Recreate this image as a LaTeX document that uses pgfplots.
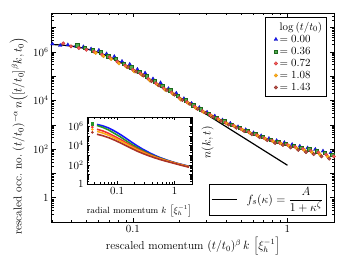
\documentclass[border=0pt]{standalone}
\usepackage{pgfplots}
\pgfplotsset{compat=1.18}
\usetikzlibrary{calc}
\definecolor{cblue}{RGB}{20,20,255}
\definecolor{cgreen}{RGB}{40,150,40}
\definecolor{cred}{RGB}{240,50,50}
\definecolor{corange}{RGB}{255,170,20}
\definecolor{cbrown}{RGB}{170,50,40}
\begin{document}
\begin{tikzpicture}
\begin{axis}[name=main, scale only axis, width=282bp, height=209bp,
 xmode=log, ymode=log, xmin=0.03, xmax=2, ymin=0.1, ymax=4e7,
 xtick={0.1,1}, xticklabels={$0.1$,$1$},
 minor xtick={0.03,0.04,0.05,0.06,0.07,0.08,0.09,0.2,0.3,0.4,0.5,0.6,0.7,0.8,0.9,2},
 ytick={0.1,1,10,100,1000,1e4,1e5,1e6,1e7},
 yticklabels={,$1$,,$10^2$,,$10^4$,,$10^6$,},
 minor ytick={0.2,0.3,0.4,0.5,0.6,0.7,0.8,0.9,2,3,4,5,6,7,8,9,20,30,40,50,60,70,80,90,200,300,400,500,600,700,800,900,2e3,3e3,4e3,5e3,6e3,7e3,8e3,9e3,2e4,3e4,4e4,5e4,6e4,7e4,8e4,9e4,2e5,3e5,4e5,5e5,6e5,7e5,8e5,9e5,2e6,3e6,4e6,5e6,6e6,7e6,8e6,9e6,2e7,3e7},
 axis line style={line width=1pt},
 major tick length=4bp, minor tick length=2.2bp,
 every tick/.style={black, line width=0.5pt},
 tick label style={font=\fontsize{10.5}{12}\selectfont},
 xlabel={rescaled momentum $(t/t_0)^{\beta}\,k\,\left[\xi_h^{-1}\right]$},
 ylabel={rescaled occ.\ no.\ $(t/t_0)^{-\alpha}\,n\!\left([t/t_0]^{\beta}k,t_0\right)$},
 ylabel style={at={(axis description cs:-0.118,0.41)}, anchor=center, font=\fontsize{11.5}{14}\selectfont},
 xlabel style={yshift=2bp, font=\fontsize{11.5}{14}\selectfont},
 legend style={at={(rel axis cs:0.975,0.98)}, anchor=north east, draw=black, line width=0.6pt, fill=white, inner sep=2.5pt, row sep=-0.5pt, cells={anchor=west}, font=\fontsize{11}{13}\selectfont},
 mark options={solid},
]
\addlegendimage{empty legend}\addlegendentry{$\log\,(t/t_0)$}
\addplot[only marks, mark=triangle*, mark size=2.1pt, color=cblue, mark options={fill=cblue, draw=cblue!70!black, line width=0.3pt}] coordinates {
(0.0302,2.14e6) (0.0339,1.86e6) (0.0380,1.95e6) (0.0427,1.74e6) (0.0479,1.62e6) (0.0537,1.32e6) (0.0603,1.17e6) (0.0676,8.32e5) (0.0759,6.46e5) (0.0851,4.07e5) (0.0955,3.09e5) (0.107,1.91e5) (0.120,1.35e5) (0.135,7.76e4) (0.151,5.37e4) (0.170,3.09e4) (0.191,2.00e4) (0.214,1.20e4) (0.240,7.59e3) (0.269,5.13e3) (0.302,3.31e3) (0.339,2.29e3) (0.380,1.58e3) (0.427,1.15e3) (0.479,832) (0.537,631) (0.603,468) (0.676,355) (0.759,275) (0.851,224) (0.955,186) (1.072,155) (1.202,132) (1.349,112) (1.514,97.7) (1.698,83.2) (1.905,70.8)};
\addlegendentry{$=0.00$}
\addplot[only marks, mark=square*, mark size=1.7pt, color=cgreen, mark options={fill=cgreen!80!white, draw=cgreen!70!black, line width=0.4pt}] coordinates {
(0.0437,1.86e6) (0.0490,1.51e6) (0.0550,1.17e6) (0.0617,9.77e5) (0.0692,6.76e5) (0.0776,5.13e5) (0.0871,3.27e5) (0.0977,2.37e5) (0.110,1.50e5) (0.123,1.00e5) (0.138,6.31e4) (0.155,3.98e4) (0.174,2.63e4) (0.195,1.55e4) (0.219,1.02e4) (0.245,6.46e3) (0.275,4.37e3) (0.309,2.95e3) (0.347,2.00e3) (0.389,1.41e3) (0.437,1.02e3) (0.490,741) (0.550,562) (0.617,427) (0.692,324) (0.776,245) (0.871,204) (0.977,166) (1.096,138) (1.230,115) (1.380,97.7) (1.549,83.2) (1.738,69.2) (1.950,58.9)};
\addlegendentry{$=0.36$}
\addplot[only marks, mark=*, mark size=1.8pt, color=cred, mark options={fill=cred!80!white, draw=cred!80!black, line width=0.3pt}] coordinates {
(0.0355,2.24e6) (0.0398,1.70e6) (0.0447,1.45e6) (0.0501,1.23e6) (0.0562,1.02e6) (0.0631,7.76e5) (0.0708,6.03e5) (0.0794,3.98e5) (0.0891,2.75e5) (0.100,1.86e5) (0.112,1.29e5) (0.126,7.76e4) (0.141,5.13e4) (0.158,3.24e4) (0.178,2.14e4) (0.200,1.26e4) (0.224,8.51e3) (0.251,5.62e3) (0.282,3.63e3) (0.316,2.57e3) (0.355,1.78e3) (0.398,1.23e3) (0.447,933) (0.501,676) (0.562,501) (0.631,380) (0.708,282) (0.794,224) (0.891,182) (1.000,151) (1.122,123) (1.259,102) (1.413,85.1) (1.585,72.4) (1.778,60.3) (1.995,50.1)};
\addlegendentry{$=0.72$}
\addplot[only marks, mark=*, mark size=1.8pt, color=corange, mark options={fill=corange, draw=corange!85!black, line width=0.3pt}] coordinates {
(0.0575,9.12e5) (0.0646,6.76e5) (0.0724,5.13e5) (0.0813,3.39e5) (0.0912,2.40e5) (0.102,1.58e5) (0.115,1.10e5) (0.129,6.61e4) (0.145,4.37e4) (0.162,2.75e4) (0.182,1.82e4) (0.204,1.10e4) (0.229,7.59e3) (0.257,4.79e3) (0.288,3.31e3) (0.324,2.29e3) (0.363,1.58e3) (0.407,1.12e3) (0.457,851) (0.513,617) (0.575,457) (0.646,347) (0.724,257) (0.813,204) (0.912,166) (1.023,135) (1.148,107) (1.288,89.1) (1.445,72.4) (1.622,60.3) (1.820,49.0)};
\addlegendentry{$=1.08$}
\addplot[only marks, mark=*, mark size=1.8pt, color=cbrown, mark options={fill=cbrown!85!white, draw=cbrown!80!black, line width=0.3pt}] coordinates {
(0.0933,2.34e5) (0.105,1.55e5) (0.117,1.07e5) (0.132,6.31e4) (0.148,4.17e4) (0.166,2.63e4) (0.186,1.74e4) (0.209,1.05e4) (0.234,7.24e3) (0.263,4.57e3) (0.295,3.09e3) (0.331,2.14e3) (0.372,1.45e3) (0.417,1.02e3) (0.468,759) (0.525,550) (0.589,407) (0.661,309) (0.741,234) (0.832,178) (0.933,148) (1.047,117) (1.175,93.3) (1.318,75.9) (1.479,61.7) (1.660,50.1) (1.862,40.7)};
\addlegendentry{$=1.43$}
\addplot[forget plot, black, line width=1.2pt] coordinates {
(0.03,2.03e6) (0.035,1.909e6) (0.04,1.746e6) (0.045,1.553e6) (0.05,1.345e6) (0.055,1.14e6) (0.06,9.50e5) (0.065,7.81e5) (0.07,6.39e5) (0.08,4.26e5) (0.09,2.87e5) (0.1,1.97e5) (0.12,9.96e4) (0.15,4.19e4) (0.2,1.344e4) (0.25,5528) (0.3,2668) (0.4,845) (0.5,346) (0.6,167) (0.7,90.1) (0.8,52.8) (1.0,21.6)};
\node[draw=black, line width=0.6pt, fill=white, anchor=south east, inner sep=2.5pt, font=\fontsize{12.5}{14}\selectfont] at (rel axis cs:0.972,0.033) {\rule[0.55ex]{25bp}{1.2pt}\hspace{10bp}$\displaystyle f_s(\kappa) = \frac{A}{1+\kappa^{\zeta}}$};
\end{axis}
\begin{axis}[at={($(main.south west)+(35bp,38bp)$)}, anchor=south west,
 scale only axis, width=105bp, height=67bp,
 xmode=log, ymode=log, xmin=0.03, xmax=2, ymin=1, ymax=1e7,
 xtick={0.1,1}, xticklabels={$0.1$,$1$},
 minor xtick={0.03,0.04,0.05,0.06,0.07,0.08,0.09,0.2,0.3,0.4,0.5,0.6,0.7,0.8,0.9,2},
 ytick={1,10,100,1000,1e4,1e5,1e6,1e7},
 yticklabels={$1$,,$10^2$,,$10^4$,,$10^6$,},
 minor ytick={2,3,4,5,6,7,8,9,20,30,40,50,60,70,80,90,200,300,400,500,600,700,800,900,2e3,3e3,4e3,5e3,6e3,7e3,8e3,9e3,2e4,3e4,4e4,5e4,6e4,7e4,8e4,9e4,2e5,3e5,4e5,5e5,6e5,7e5,8e5,9e5,2e6,3e6,4e6,5e6,6e6,7e6,8e6,9e6},
 axis line style={line width=1pt},
 major tick length=3bp, minor tick length=1.6bp,
 every tick/.style={black, line width=0.5pt},
 tick label style={font=\fontsize{10.5}{12}\selectfont},
 axis background/.style={fill=white},
 xlabel={radial momentum $k\,\left[\xi_h^{-1}\right]$},
 xlabel style={font=\small, yshift=-3.5bp},
 ylabel={$n(k,t)$},
 ylabel style={at={(axis description cs:1.15,0.62)}, anchor=center, font=\large},
]
\addplot[cblue, line width=1.6pt] coordinates {(0.0447,1.66e6) (0.0562,1.20e6) (0.0708,7.24e5) (0.0891,3.55e5) (0.112,1.58e5) (0.141,6.31e4) (0.178,2.40e4) (0.224,9.55e3) (0.282,4.17e3) (0.355,2.00e3) (0.447,1.00e3) (0.562,562) (0.708,339) (0.891,214) (1.122,141) (1.413,100) (1.778,70.8)};
\addplot[cgreen, line width=1.6pt] coordinates {(0.0447,1.32e6) (0.0562,8.32e5) (0.0708,4.47e5) (0.0891,2.00e5) (0.112,8.91e4) (0.141,3.55e4) (0.178,1.41e4) (0.224,6.31e3) (0.282,3.02e3) (0.355,1.51e3) (0.447,832) (0.562,501) (0.708,316) (0.891,204) (1.122,135) (1.413,93.3) (1.778,66.1)};
\addplot[cred, line width=1.6pt] coordinates {(0.0447,5.25e5) (0.0562,3.55e5) (0.0708,2.00e5) (0.0891,1.00e5) (0.112,4.79e4) (0.141,2.14e4) (0.178,9.55e3) (0.224,4.57e3) (0.282,2.34e3) (0.355,1.26e3) (0.447,724) (0.562,447) (0.708,288) (0.891,195) (1.122,132) (1.413,91.2) (1.778,64.6)};
\addplot[corange, line width=1.6pt] coordinates {(0.0447,3.16e5) (0.0562,2.14e5) (0.0708,1.26e5) (0.0891,6.61e4) (0.112,3.31e4) (0.141,1.58e4) (0.178,7.41e3) (0.224,3.63e3) (0.282,1.95e3) (0.355,1.07e3) (0.447,646) (0.562,407) (0.708,269) (0.891,182) (1.122,126) (1.413,87.1) (1.778,61.7)};
\addplot[cbrown, line width=1.6pt] coordinates {(0.0447,1.58e5) (0.0562,1.12e5) (0.0708,7.08e4) (0.0891,3.98e4) (0.112,2.09e4) (0.141,1.05e4) (0.178,5.25e3) (0.224,2.69e3) (0.282,1.51e3) (0.355,891) (0.447,550) (0.562,355) (0.708,240) (0.891,166) (1.122,115) (1.413,79.4) (1.778,56.2)};
\addplot[only marks, mark=triangle*, mark size=1.4pt, cblue] coordinates {(0.0372,1.78e6)};
\addplot[only marks, mark=square*, mark size=1.1pt, cgreen] coordinates {(0.0372,2.0e6)};
\addplot[only marks, mark=*, mark size=1.1pt, cred] coordinates {(0.0372,8.91e5)};
\addplot[only marks, mark=*, mark size=1.1pt, corange] coordinates {(0.0372,5.01e5)};
\addplot[only marks, mark=*, mark size=1.1pt, cbrown] coordinates {(0.0372,2.51e5)};
\end{axis}
\path ($(main.south west)+(-52bp,-38bp)$) rectangle ++(350bp,260bp);
\end{tikzpicture}
\end{document}
